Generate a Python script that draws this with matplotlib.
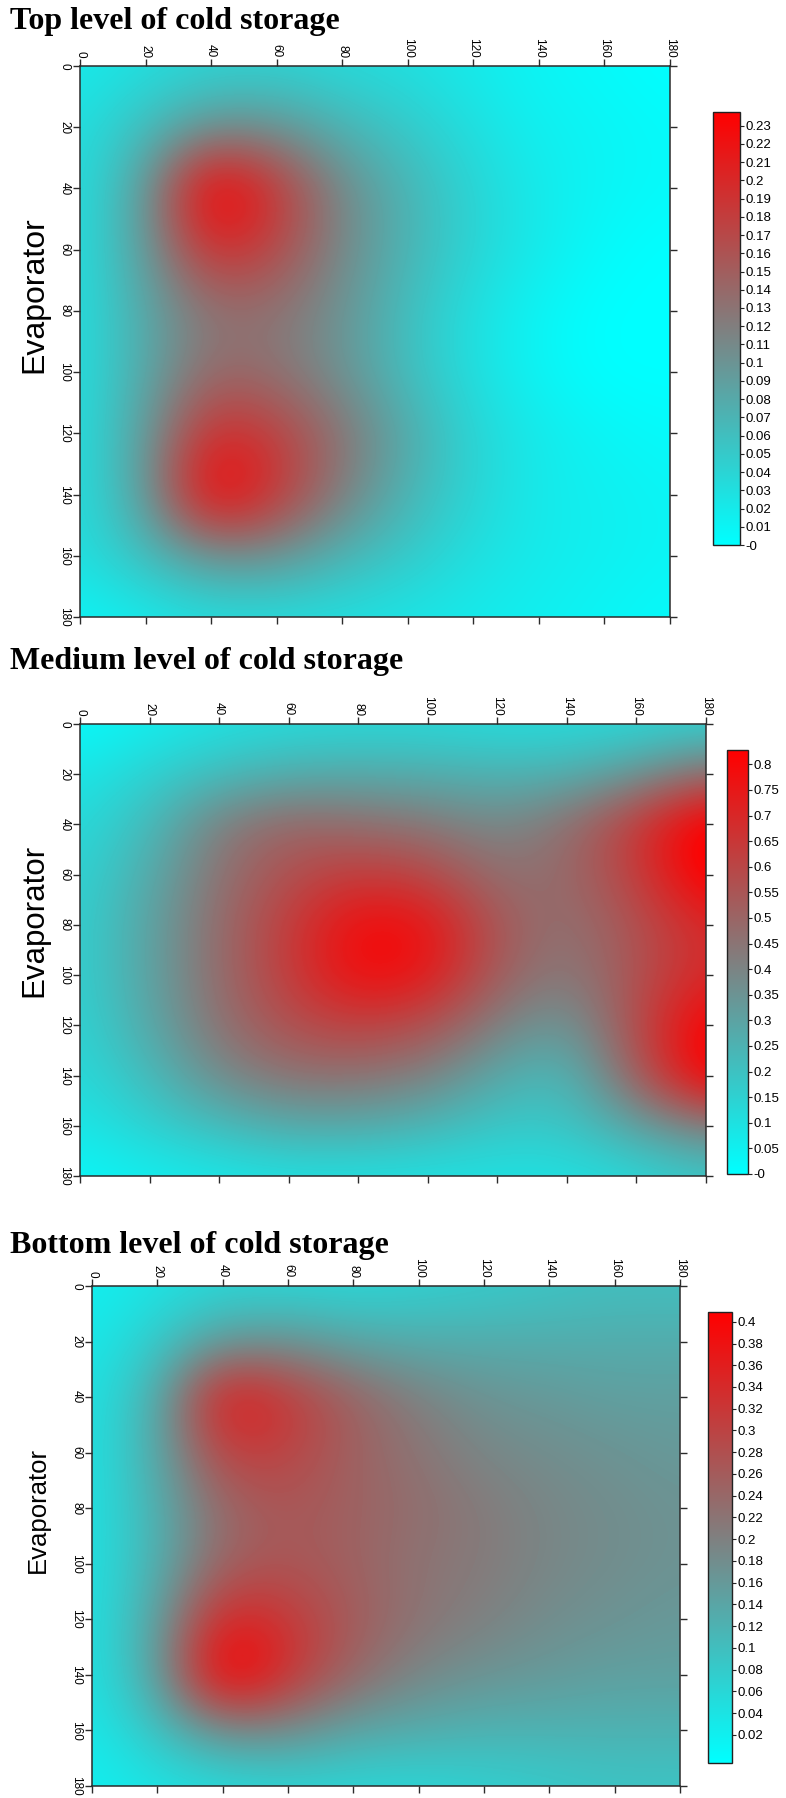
import matplotlib
matplotlib.use("Agg")
import matplotlib.pyplot as plt
import numpy as np
from matplotlib.colors import LinearSegmentedColormap, Normalize

grid_x = [0, 20, 40, 60, 80, 100, 120, 140, 160, 180]
grid_y = [0, 20, 40, 60, 80, 100, 120, 140, 160, 180]

# rows = grid_y, cols = grid_x
top_level = [
    [0.02, 0.03, 0.04, 0.04, 0.035, 0.03, 0.02, 0.01, 0.005, 0.0],
    [0.03, 0.06, 0.10, 0.10, 0.07, 0.05, 0.03, 0.015, 0.01, 0.005],
    [0.03, 0.09, 0.26, 0.19, 0.11, 0.07, 0.04, 0.02, 0.01, 0.005],
    [0.03, 0.09, 0.20, 0.17, 0.11, 0.07, 0.04, 0.02, 0.005, 0.0],
    [0.03, 0.08, 0.13, 0.13, 0.10, 0.06, 0.03, 0.01, 0.0, 0.0],
    [0.03, 0.08, 0.14, 0.13, 0.10, 0.06, 0.03, 0.01, 0.0, 0.0],
    [0.03, 0.09, 0.20, 0.18, 0.13, 0.08, 0.04, 0.02, 0.01, 0.005],
    [0.03, 0.09, 0.25, 0.19, 0.12, 0.07, 0.04, 0.02, 0.015, 0.01],
    [0.03, 0.06, 0.10, 0.10, 0.07, 0.05, 0.03, 0.02, 0.015, 0.01],
    [0.01, 0.02, 0.03, 0.03, 0.03, 0.025, 0.02, 0.015, 0.01, 0.005],
]

medium_level = [
    [0.02, 0.06, 0.10, 0.12, 0.13, 0.13, 0.12, 0.12, 0.13, 0.15],
    [0.08, 0.15, 0.22, 0.27, 0.28, 0.27, 0.25, 0.26, 0.34, 0.48],
    [0.12, 0.22, 0.42, 0.50, 0.47, 0.44, 0.38, 0.46, 0.64, 0.88],
    [0.14, 0.27, 0.46, 0.57, 0.64, 0.60, 0.46, 0.48, 0.62, 0.86],
    [0.15, 0.30, 0.48, 0.63, 0.80, 0.78, 0.54, 0.45, 0.56, 0.70],
    [0.15, 0.30, 0.48, 0.63, 0.80, 0.76, 0.52, 0.42, 0.56, 0.70],
    [0.14, 0.28, 0.46, 0.57, 0.62, 0.57, 0.41, 0.32, 0.58, 0.84],
    [0.12, 0.22, 0.38, 0.46, 0.46, 0.41, 0.28, 0.22, 0.52, 0.86],
    [0.08, 0.15, 0.22, 0.28, 0.28, 0.24, 0.18, 0.18, 0.30, 0.42],
    [0.03, 0.06, 0.08, 0.10, 0.10, 0.10, 0.10, 0.10, 0.13, 0.18],
]

bottom_level = [
    [0.02, 0.04, 0.06, 0.06, 0.06, 0.07, 0.08, 0.09, 0.10, 0.10],
    [0.03, 0.08, 0.16, 0.17, 0.14, 0.13, 0.13, 0.13, 0.13, 0.13],
    [0.04, 0.12, 0.39, 0.32, 0.25, 0.20, 0.17, 0.16, 0.15, 0.15],
    [0.04, 0.13, 0.31, 0.30, 0.25, 0.22, 0.19, 0.18, 0.17, 0.16],
    [0.04, 0.12, 0.24, 0.27, 0.25, 0.23, 0.21, 0.19, 0.18, 0.17],
    [0.04, 0.12, 0.25, 0.27, 0.25, 0.22, 0.21, 0.19, 0.18, 0.17],
    [0.04, 0.14, 0.36, 0.32, 0.26, 0.22, 0.20, 0.18, 0.17, 0.16],
    [0.04, 0.14, 0.45, 0.33, 0.24, 0.19, 0.17, 0.16, 0.15, 0.15],
    [0.03, 0.09, 0.18, 0.18, 0.14, 0.13, 0.12, 0.12, 0.12, 0.12],
    [0.02, 0.04, 0.05, 0.06, 0.06, 0.06, 0.07, 0.08, 0.09, 0.09],
]

titles = ["Top level of cold storage", "Medium level of cold storage",
          "Bottom level of cold storage"]
axis_ticks = [0, 20, 40, 60, 80, 100, 120, 140, 160, 180]

cb_ticks_top = [0.0, 0.01, 0.02, 0.03, 0.04, 0.05, 0.06, 0.07, 0.08, 0.09, 0.1, 0.11,
                0.12, 0.13, 0.14, 0.15, 0.16, 0.17, 0.18, 0.19, 0.2, 0.21, 0.22, 0.23]
cb_labels_top = ["-0", "0.01", "0.02", "0.03", "0.04", "0.05", "0.06", "0.07", "0.08",
                 "0.09", "0.1", "0.11", "0.12", "0.13", "0.14", "0.15", "0.16", "0.17",
                 "0.18", "0.19", "0.2", "0.21", "0.22", "0.23"]
cb_ticks_med = [0.0, 0.05, 0.1, 0.15, 0.2, 0.25, 0.3, 0.35, 0.4, 0.45, 0.5, 0.55,
                0.6, 0.65, 0.7, 0.75, 0.8]
cb_labels_med = ["-0", "0.05", "0.1", "0.15", "0.2", "0.25", "0.3", "0.35", "0.4",
                 "0.45", "0.5", "0.55", "0.6", "0.65", "0.7", "0.75", "0.8"]
cb_ticks_bot = [0.02, 0.04, 0.06, 0.08, 0.1, 0.12, 0.14, 0.16, 0.18, 0.2, 0.22,
                0.24, 0.26, 0.28, 0.3, 0.32, 0.34, 0.36, 0.38, 0.4]
cb_labels_bot = ["0.02", "0.04", "0.06", "0.08", "0.1", "0.12", "0.14", "0.16", "0.18",
                 "0.2", "0.22", "0.24", "0.26", "0.28", "0.3", "0.32", "0.34", "0.36",
                 "0.38", "0.4"]

W, H = 786, 1798
fig = plt.figure(figsize=(W / 100, H / 100), dpi=100)
cmap = LinearSegmentedColormap.from_list("cyan_red", ["#00ffff", "#ff0000"])


def box(x0, y0, x1, y1):
    # pixel box (top-left origin) -> figure fraction
    return [x0 / W, 1 - y1 / H, (x1 - x0) / W, (y1 - y0) / H]


# layout in pixels: heatmap box, colorbar box, title y, ylabel (x, y, size)
panels = [
    (top_level, (80, 66, 670, 617), (713, 112, 740, 545), 22, (34, 295, 23),
     0.0, 0.2375, cb_ticks_top, cb_labels_top),
    (medium_level, (80, 724, 706, 1176), (727, 750, 748, 1174), 662, (34, 920, 22.5),
     0.0, 0.828, cb_ticks_med, cb_labels_med),
    (bottom_level, (92, 1286, 680, 1786), (708, 1312, 732, 1763), 1245, (38, 1510, 18.5),
     -0.006, 0.409, cb_ticks_bot, cb_labels_bot),
]

edge = "#2b2b2b"
for (vals, abox, cbox, ty, (lx, ly, lsize), vmin, vmax, cticks, clabels), title in zip(panels, titles):
    ax = fig.add_axes(box(*abox))
    norm = Normalize(vmin=vmin, vmax=vmax)
    im = ax.imshow(np.array(vals), cmap=cmap, norm=norm, interpolation="bicubic",
                   extent=(grid_x[0] - 10, grid_x[-1] + 10, grid_y[-1] + 10, grid_y[0] - 10),
                   aspect="auto")
    ax.set_xlim(0, 180)
    ax.set_ylim(180, 0)
    ax.set_xticks(axis_ticks)
    ax.set_yticks(axis_ticks)
    ax.tick_params(axis="x", top=True, bottom=True, labeltop=True, labelbottom=False,
                   direction="out", length=5, width=1, color=edge, labelsize=8.5, pad=1)
    ax.tick_params(axis="y", left=True, right=True, labelleft=True, labelright=False,
                   direction="out", length=5, width=1, color=edge, labelsize=8.5, pad=2)
    for lab in ax.get_xticklabels():
        lab.set_rotation(-90)
        lab.set_ha("center")
        lab.set_va("bottom")
        lab.set_family("Liberation Sans")
    for lab in ax.get_yticklabels():
        lab.set_rotation(-90)
        lab.set_ha("right")
        lab.set_va("center")
        lab.set_family("Liberation Sans")
    for sp in ax.spines.values():
        sp.set_color(edge)
        sp.set_linewidth(1.1)

    cax = fig.add_axes(box(*cbox))
    cb = fig.colorbar(im, cax=cax)
    cb.set_ticks(cticks)
    cb.set_ticklabels(clabels)
    cb.outline.set_edgecolor("#222222")
    cb.outline.set_linewidth(1.0)
    cax.tick_params(length=3, width=0.8, labelsize=9.5, pad=1, color="#222222")
    for lab in cax.get_yticklabels():
        lab.set_family("Liberation Sans")

    fig.text(10 / W, 1 - ty / H, title, family="Liberation Serif", weight="bold",
             fontsize=23, ha="left", va="center")
    fig.text(lx / W, 1 - ly / H, "Evaporator", family="Liberation Sans",
             fontsize=lsize, rotation=90, ha="center", va="center")

fig.savefig("out.png", dpi=100)
